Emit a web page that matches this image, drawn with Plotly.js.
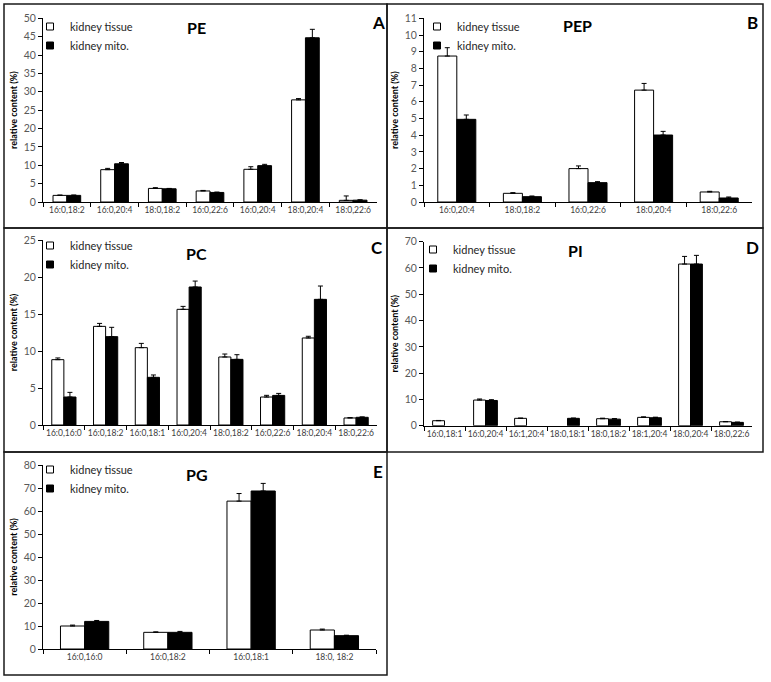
<!DOCTYPE html>
<html>
<head>
<meta charset="utf-8">
<script src="https://cdn.plot.ly/plotly-3.0.1.min.js"></script>
<style>html,body{margin:0;padding:0;background:#fff;}#chart{width:771px;height:682px;}</style>
</head>
<body>
<div id="chart"></div>
<script>
// ---------- DATA ----------
const seriesNames = ["kidney tissue", "kidney mito."];

// Panel A: PE (second "16:0,20:4" carries a zero-width space so it stays a separate category)
const peCategories = ["16:0,18:2", "16:0,20:4", "18:0,18:2", "16:0,22:6", "16:0,20:4\u200B", "18:0,20:4", "18:0,22:6"];
const peTissue    = [1.8, 8.8, 3.7, 3.0, 8.9, 27.8, 0.45];
const peTissueErr = [0.1, 0.35, 0.2, 0.15, 0.7, 0.35, 1.2];
const peMito      = [1.8, 10.4, 3.6, 2.6, 9.9, 44.7, 0.5];
const peMitoErr   = [0.1, 0.35, 0.1, 0.1, 0.35, 2.3, 0.1];

// Panel B: PEP
const pepCategories = ["16:0,20:4", "18:0,18:2", "16:0,22:6", "18:0,20:4", "18:0,22:6"];
const pepTissue    = [8.74, 0.52, 2.0, 6.7, 0.6];
const pepTissueErr = [0.5, 0.04, 0.16, 0.4, 0.04];
const pepMito      = [4.95, 0.32, 1.16, 4.01, 0.24];
const pepMitoErr   = [0.26, 0.04, 0.06, 0.22, 0.06];

// Panel C: PC
const pcCategories = ["16:0,16:0", "16:0,18:2", "16:0,18:1", "16:0,20:4", "18:0,18:2", "16:0,22:6", "18:0,20:4", "18:0,22:6"];
const pcTissue    = [8.83, 13.33, 10.45, 15.63, 9.19, 3.78, 11.76, 0.95];
const pcTissueErr = [0.23, 0.4, 0.58, 0.4, 0.4, 0.23, 0.23, 0.05];
const pcMito      = [3.78, 11.94, 6.44, 18.65, 8.87, 4.0, 16.98, 1.04];
const pcMitoErr   = [0.63, 1.26, 0.32, 0.8, 0.63, 0.27, 1.8, 0.05];

// Panel D: PI
const piCategories = ["16:0,18:1", "16:0,20:4", "16:1,20:4", "18:0,18:1", "18:0,18:2", "18:1,20:4", "18:0,20:4", "18:0,22:6"];
const piTissue    = [1.9, 9.76, 2.8, null, 2.66, 3.17, 61.5, 1.5];
const piTissueErr = [0.1, 0.4, 0.1, null, 0.2, 0.2, 2.9, 0.1];
const piMito      = [null, 9.6, null, 2.8, 2.5, 3.04, 61.5, 1.27];
const piMitoErr   = [null, 0.3, null, 0.1, 0.2, 0.2, 3.3, 0.1];

// Panel E: PG
const pgCategories = ["16:0,16:0", "16:0,18:2", "16:0,18:1", "18:0, 18:2"];
const pgTissue    = [10.0, 7.25, 64.3, 8.26];
const pgTissueErr = [0.4, 0.2, 3.3, 0.4];
const pgMito      = [12.0, 7.25, 68.7, 5.8];
const pgMitoErr   = [0.4, 0.4, 3.3, 0.2];

const panelTitles  = ["PE", "PEP", "PC", "PI", "PG"];
const panelLetters = ["A", "B", "C", "D", "E"];
const yMax  = [50, 11, 25, 70, 80];
const yStep = [5, 1, 5, 10, 10];

// ---------- LAYOUT ----------
const W = 771, H = 682;
const px = x => x / W;
const py = y => 1 - y / H;
const FONT = "Lato, 'Open Sans', sans-serif";

// plot areas in pixels [x0, x1, yTop, yBottom]
const areas = [
  [43, 377, 18.3, 202],
  [424, 752, 18.3, 202],
  [43, 377, 240, 425],
  [424, 752, 241.7, 425.7],
  [43, 376, 465, 649]
];
// panel frames in pixels [x0, y0, x1, y1]
const frames = [
  [4, 4, 387, 228],
  [387, 4, 763, 228],
  [4, 228, 387, 452],
  [387, 228, 763, 452],
  [4, 452, 387, 675]
];
const titlePos  = [[197, 28], [577, 26], [197, 253], [575, 250], [197, 474]];
const letterPos = [[378, 23], [752, 23], [377, 247], [752, 247], [378, 471]];
const legendPos = [[30, 12], [417, 12], [30, 231], [413, 235], [30, 455]];

const panels = [
  [peCategories, peTissue, peTissueErr, peMito, peMitoErr],
  [pepCategories, pepTissue, pepTissueErr, pepMito, pepMitoErr],
  [pcCategories, pcTissue, pcTissueErr, pcMito, pcMitoErr],
  [piCategories, piTissue, piTissueErr, piMito, piMitoErr],
  [pgCategories, pgTissue, pgTissueErr, pgMito, pgMitoErr]
];

const fills = ["#ffffff", "#000000"];
const data = [];
const layout = {
  width: W, height: H,
  margin: {l: 0, r: 0, t: 0, b: 0},
  paper_bgcolor: "#fff", plot_bgcolor: "rgba(0,0,0,0)",
  barmode: "group", bargap: 0.42, bargroupgap: 0,
  font: {family: FONT, color: "#262626"},
  shapes: [], annotations: []
};

panels.forEach((p, i) => {
  const [cats, t, te, m, me] = p;
  const n = i + 1;
  const xa = n === 1 ? "x" : "x" + n;
  const ya = n === 1 ? "y" : "y" + n;
  const lg = n === 1 ? "legend" : "legend" + n;
  [[t, te], [m, me]].forEach((s, k) => {
    data.push({
      type: "bar", name: seriesNames[k], x: cats, y: s[0], xaxis: xa, yaxis: ya,
      showlegend: false,
      marker: {color: fills[k], line: {color: "#000", width: 1}},
      error_y: {type: "data", symmetric: false, array: s[1],
                arrayminus: s[1].map(v => (v === null ? null : 0)),
                color: "#000", thickness: 1, width: 2.5},
      hoverinfo: "x+y+name"
    });
  });
  // legend entries with small square keys (no data)
  seriesNames.forEach((nm, k) => {
    data.push({
      type: "scatter", mode: "markers", name: nm, x: [null], y: [null],
      xaxis: xa, yaxis: ya, legend: lg, showlegend: true, hoverinfo: "skip",
      marker: {symbol: "square", size: 7, color: fills[k], line: {color: "#000", width: 1}}
    });
  });
  const [x0, x1, yT, yB] = areas[i];
  layout["xaxis" + (n === 1 ? "" : n)] = {
    domain: [px(x0), px(x1)], anchor: ya, type: "category",
    categoryorder: "array", categoryarray: cats,
    range: [-0.5, cats.length - 0.5], tickson: "boundaries",
    showline: true, linecolor: "#000", linewidth: 1,
    ticks: "outside", ticklen: 4, tickcolor: "#000", tickwidth: 1,
    tickangle: 0, showgrid: false, zeroline: false,
    tickfont: {family: FONT, size: 8.5, color: "#404040"}, fixedrange: true
  };
  layout["yaxis" + (n === 1 ? "" : n)] = {
    domain: [py(yB), py(yT)], anchor: xa,
    range: [0, yMax[i]], dtick: yStep[i], tick0: 0,
    showline: true, linecolor: "#000", linewidth: 1,
    ticks: "outside", ticklen: 4, tickcolor: "#000", tickwidth: 1,
    showgrid: false, zeroline: false,
    tickfont: {family: FONT, size: 10.5, color: "#595959"},
    title: {text: "relative content (%)", font: {family: FONT, size: 9, color: "#000", weight: "bold"}, standoff: 4},
    fixedrange: true
  };
  layout[lg] = {
    x: px(legendPos[i][0]), y: py(legendPos[i][1]), xanchor: "left", yanchor: "top",
    bgcolor: "rgba(0,0,0,0)", borderwidth: 0,
    font: {family: FONT, size: 11, color: "#262626"},
    itemwidth: 30, tracegroupgap: 0
  };
  const f = frames[i];
  layout.shapes.push({
    type: "rect", xref: "paper", yref: "paper",
    x0: px(f[0]), x1: px(f[2]), y0: py(f[3]), y1: py(f[1]),
    line: {color: "#1a1a1a", width: 1.5}, fillcolor: "rgba(0,0,0,0)", layer: "above"
  });
  layout.annotations.push({
    xref: "paper", yref: "paper", x: px(titlePos[i][0]), y: py(titlePos[i][1]),
    xanchor: "center", yanchor: "middle", showarrow: false,
    text: "<b>" + panelTitles[i] + "</b>", font: {family: FONT, size: 16, color: "#000"}
  });
  layout.annotations.push({
    xref: "paper", yref: "paper", x: px(letterPos[i][0]), y: py(letterPos[i][1]),
    xanchor: "center", yanchor: "middle", showarrow: false,
    text: "<b>" + panelLetters[i] + "</b>", font: {family: FONT, size: 17, color: "#000"}
  });
});

Plotly.newPlot("chart", data, layout, {displayModeBar: false, staticPlot: true});
</script>
</body>
</html>
